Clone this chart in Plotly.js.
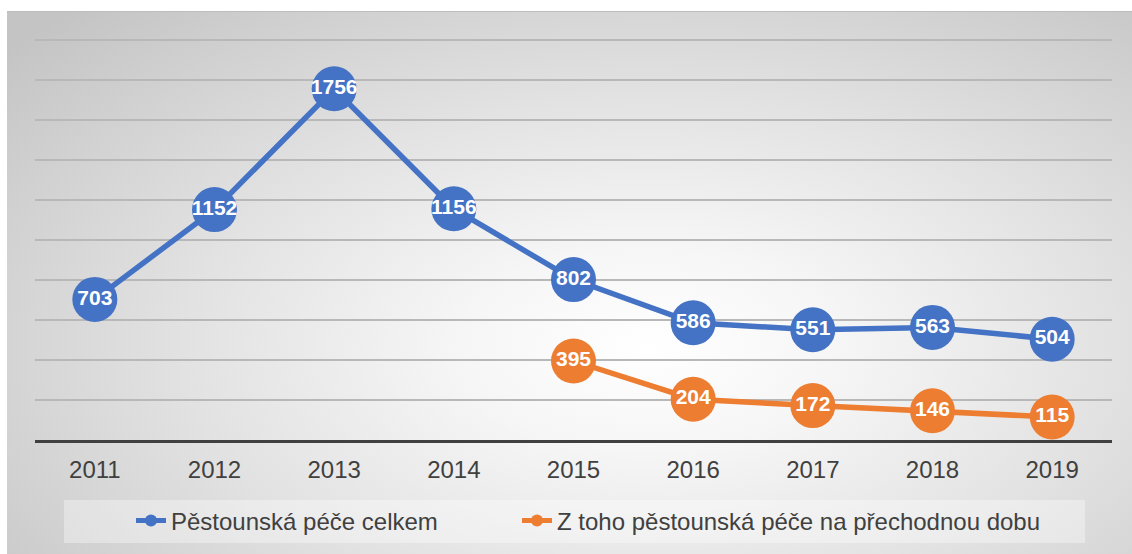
<!DOCTYPE html>
<html>
<head>
<meta charset="utf-8">
<script src="https://cdn.plot.ly/plotly-3.0.1.min.js"></script>
<style>
  html, body { margin: 0; padding: 0; background: #ffffff; }
  #frame {
    position: absolute; left: 7px; top: 11px; width: 1125px; height: 543px;
    border-top: 1px solid #bdbdbd;
    box-sizing: border-box;
    background: radial-gradient(ellipse 75% 85% at 57% 62%, #ffffff 0%, #f6f6f6 22%, #e2e2e2 55%, #c4c4c4 100%);
  }
  #chart { position: absolute; left: 0; top: 0; width: 1132px; height: 554px; }
</style>
</head>
<body>
<div id="frame"></div>
<div id="chart"></div>
<script>
const years = ['2011', '2012', '2013', '2014', '2015', '2016', '2017', '2018', '2019'];
const totalCare = [703, 1152, 1756, 1156, 802, 586, 551, 563, 504];
const temporaryCare = [null, null, null, null, 395, 204, 172, 146, 115];
const seriesNames = ['Pěstounská péče celkem', 'Z toho pěstounská péče na přechodnou dobu'];

const blue = '#4472C4';
const orange = '#ED7D31';

function series(y, name, color, legendId) {
  return {
    x: years, y: y, name: name, type: 'scatter', mode: 'lines+markers+text',
    legend: legendId,
    line: { color: color, width: 5.5 },
    marker: { color: color, size: 45 },
    texttemplate: '<b>%{y}</b>', textposition: 'middle center',
    textfont: { family: 'Liberation Sans, Arial, sans-serif', size: 21, color: '#ffffff' },
    connectgaps: false, cliponaxis: false, hoverinfo: 'skip'
  };
}

const data = [
  series(totalCare, seriesNames[0], blue, 'legend'),
  series(temporaryCare, seriesNames[1], orange, 'legend2')
];

const L = 35, R = 1112, T = 38, B = 440;
const px2x = p => (p - L) / (R - L);
const py2y = p => (B - p) / (B - T);

function legendAt(px) {
  return {
    orientation: 'h', xref: 'container', yref: 'container',
    x: px / 1132, xanchor: 'left', y: (554 - 521) / 554, yanchor: 'middle',
    bgcolor: 'rgba(0,0,0,0)', font: { size: 24, color: '#404040' },
    itemsizing: 'constant'
  };
}

const layout = {
  width: 1132, height: 554,
  margin: { l: L, r: 1132 - R, t: T, b: 554 - B },
  paper_bgcolor: 'rgba(0,0,0,0)', plot_bgcolor: 'rgba(0,0,0,0)',
  font: { family: 'Liberation Sans, Arial, sans-serif', color: '#404040' },
  showlegend: true,
  xaxis: {
    type: 'category', range: [-0.5, 8.5], showgrid: false, zeroline: false,
    showline: true, linecolor: '#404040', linewidth: 3,
    ticks: '', tickfont: { size: 24, color: '#404040' }, ticklabelstandoff: 6, fixedrange: true
  },
  yaxis: {
    range: [0, 2010], dtick: 200, showticklabels: false, ticks: '',
    showgrid: true, gridcolor: '#b8b8b8', gridwidth: 1.2, zeroline: false, fixedrange: true
  },
  legend: legendAt(131),
  legend2: legendAt(517),
  shapes: [{
    type: 'rect', xref: 'paper', yref: 'paper', layer: 'below',
    x0: px2x(64), x1: px2x(1085), y0: py2y(543), y1: py2y(500),
    fillcolor: 'rgba(255,255,255,0.35)', line: { width: 0 }
  }]
};

Plotly.newPlot('chart', data, layout, { displayModeBar: false, staticPlot: true });
</script>
</body>
</html>
